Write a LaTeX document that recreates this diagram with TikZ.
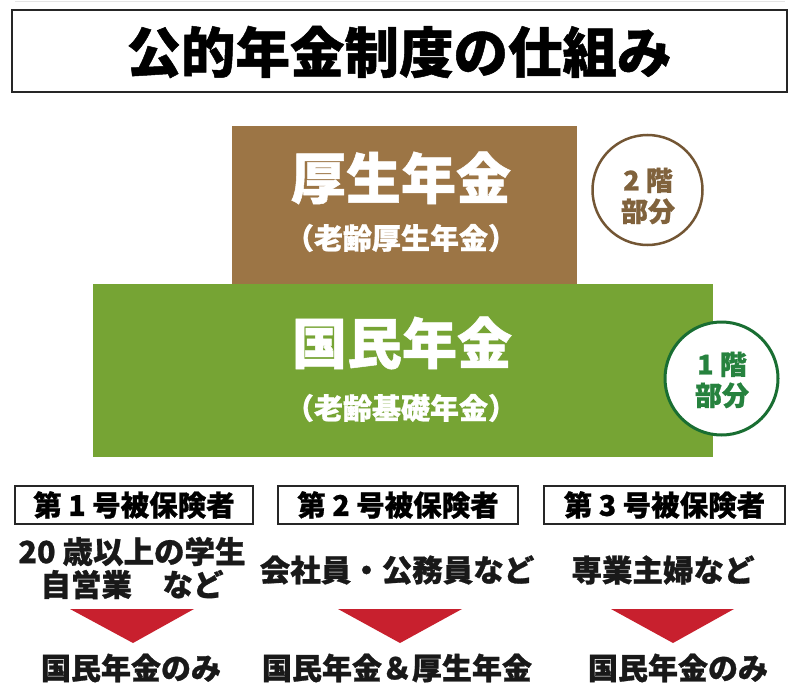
\documentclass[tikz,border=0pt]{standalone}
\usepackage{fontspec}
\setmainfont{Noto Sans CJK JP}[BoldFeatures={FakeBold=0.9}]
\definecolor{brownbox}{RGB}{156,117,69}
\definecolor{greenbox}{RGB}{118,164,52}
\definecolor{darkgreen}{RGB}{25,110,50}
\definecolor{textgreen}{RGB}{38,130,62}
\definecolor{darkbrown}{RGB}{115,86,52}
\definecolor{textbrown}{RGB}{128,98,60}
\definecolor{arrowred}{RGB}{200,32,46}
\begin{document}
\begin{tikzpicture}[x=1pt,y=-1pt,
  bigtext/.style={text=white, font=\fontsize{55}{55}\selectfont\bfseries, inner sep=0pt},
  subtext/.style={text=white, font=\fontsize{29}{29}\selectfont\bfseries, inner sep=0pt},
  levelbox/.style={rectangle, inner sep=0pt, outer sep=0pt},
  floorlabel/.style={font=\fontsize{27}{31}\selectfont\bfseries, align=center, inner sep=0pt},
  catbox/.style={draw=black!85, line width=2pt, rectangle, inner sep=0pt, minimum height=38pt, font=\fontsize{28.5}{28.5}\selectfont\bfseries},
  desctext/.style={font=\fontsize{30.5}{33}\selectfont\bfseries, align=center, inner sep=0pt, text=black!90},
  resulttext/.style={font=\fontsize{30}{30}\selectfont\bfseries, inner sep=0pt, text=black!90},
  tri/.style={fill=arrowred}
]
\useasboundingbox (0,0) rectangle (800,698);
\fill[white] (0,0) rectangle (800,698);
\draw[gray!20, line width=1pt] (15,2) -- (785,2);

% title
\node[draw=black!85, line width=2.5pt, rectangle, minimum width=775pt, minimum height=82pt, inner sep=0pt] (titlebox) at (399.5,51) {};
\node[font=\fontsize{54.5}{54.5}\selectfont\bfseries, inner sep=0pt] (title) at (399,52) {公的年金制度の仕組み};

% level boxes
\node[levelbox, fill=brownbox, minimum width=345pt, minimum height=158pt] (kosei) at (404.5,205) {};
\node[levelbox, fill=greenbox, minimum width=620pt, minimum height=173pt] (kokumin) at (403,370.5) {};

\node[bigtext] (koseiname) at (401,178) {厚生年金};
\node[subtext] (koseisub) at (401,238) {（老齢厚生年金）};
\node[bigtext] (kokuminname) at (402,343) {国民年金};
\node[subtext] (kokuminsub) at (401,408) {（老齢基礎年金）};

% floor labels
\node[circle, draw=darkbrown, line width=2.5pt, fill=white, minimum size=110pt, inner sep=0pt] (floor2) at (647.5,190) {};
\node[floorlabel, text=textbrown] (floor2text) at (648,196) {2 階\\部分};
\node[circle, draw=darkgreen, line width=3pt, fill=white, minimum size=113pt, inner sep=0pt] (floor1) at (721.5,378.5) {};
\node[floorlabel, text=textgreen] (floor1text) at (722,380) {1 階\\部分};

% categories
\node[catbox, minimum width=238pt] (cat1) at (134,505) {第 1 号被保険者};
\node[catbox, minimum width=240pt] (cat2) at (398,505) {第 2 号被保険者};
\node[catbox, minimum width=241pt] (cat3) at (664.5,505) {第 3 号被保険者};

\node[desctext] (desc1) at (132,568) {20 歳以上の学生\\自営業　など};
\node[desctext] (desc2) at (397,570) {会社員・公務員など};
\node[desctext] (desc3) at (663,570) {専業主婦など};

% arrows
\fill[tri] (70,609) -- (194,609) -- (133,643) -- cycle;
\fill[tri] (338,609) -- (462,609) -- (400,643) -- cycle;
\fill[tri] (611,609) -- (734,609) -- (673,643) -- cycle;

\node[resulttext] (res1) at (131,668) {国民年金のみ};
\node[resulttext] (res2) at (397,668) {国民年金＆厚生年金};
\node[resulttext] (res3) at (678,668) {国民年金のみ};
\end{tikzpicture}
\end{document}
